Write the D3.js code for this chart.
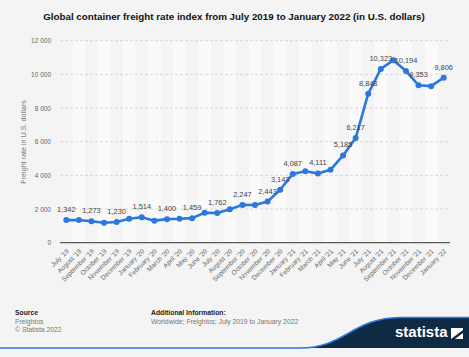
<!DOCTYPE html>
<html><head><meta charset="utf-8">
<script src="https://cdn.jsdelivr.net/npm/d3@7"></script>
<style>
html,body{margin:0;padding:0;background:#f4f4f4;}
svg{display:block;font-family:"Liberation Sans",Arial,sans-serif;}
</style></head>
<body>
<svg id="c" width="469" height="357"></svg>
<script>
const months = ["July '19","August '19","September '19","October '19","November '19","December '19",
"January '20","February '20","March '20","April '20","May '20","June '20","July '20","August '20",
"September '20","October '20","November '20","December '20","January '21","February '21","March '21",
"April '21","May '21","June '21","July '21","August '21","September '21","October '21","November '21",
"December '21","January '22"];
const rates = [1342,1350,1273,1185,1230,1420,1514,1310,1400,1420,1459,1775,1762,1990,2247,2240,2443,
3143,4087,4250,4111,4330,5185,6217,8848,10323,10839,10194,9353,9300,9806];
const labeledIdx = [0,2,4,6,8,10,12,14,16,17,18,20,22,23,24,25,27,28,30];
const yTicks = [0,2000,4000,6000,8000,10000,12000];
const yTickLabels = ["0","2 000","4 000","6 000","8 000","10 000","12 000"];

const svg = d3.select("#c");
const L = 60, R = 450, T = 40.7, B = 242.7;
const x = d3.scaleBand().domain(months).range([L, R]).padding(0);
const y = d3.scaleLinear().domain([0, 12000]).range([B, T]);
const fmt = d3.format(",");

// alternating column shading
svg.append("g").selectAll("rect").data(months.filter((d,i)=>i%2===1)).join("rect")
  .attr("x", d=>x(d)).attr("y", T).attr("width", x.bandwidth()).attr("height", B-T)
  .attr("fill", "#fafafa");

// gridlines
svg.append("g").selectAll("line").data(yTicks.filter(d=>d>0)).join("line")
  .attr("x1", L).attr("x2", R).attr("y1", d=>y(d)).attr("y2", d=>y(d))
  .attr("stroke", "#cfcfcf").attr("stroke-width", 0.8).attr("stroke-dasharray", "3,2");
// baseline
svg.append("line").attr("x1", L).attr("x2", R).attr("y1", y(0)).attr("y2", y(0))
  .attr("stroke", "#333").attr("stroke-width", 1);

// y tick labels
svg.append("g").selectAll("text").data(yTicks).join("text")
  .attr("x", 51).attr("y", d=>y(d)+2.5).attr("text-anchor","end")
  .attr("font-size", 6.5).attr("fill", "#666").text((d,i)=>yTickLabels[i]);

// y axis title
svg.append("text").attr("transform","translate(26,142) rotate(-90)")
  .attr("text-anchor","middle").attr("font-size",7.2).attr("fill","#777")
  .text("Freight rate in U.S. dollars");

// x labels
svg.append("g").selectAll("text").data(months).join("text")
  .attr("transform", d=>`translate(${x(d)+x.bandwidth()/2+3},${B+9}) rotate(-45)`)
  .attr("text-anchor","end").attr("font-size",6.6).attr("fill","#666").text(d=>d);

// line
const cx = (d,i)=>x(months[i])+x.bandwidth()/2;
svg.append("path").datum(rates)
  .attr("d", d3.line().x((d,i)=>cx(d,i)).y(d=>y(d)))
  .attr("fill","none").attr("stroke","#2a77de").attr("stroke-width",2.6).attr("stroke-linejoin","round");
svg.append("g").selectAll("circle").data(rates).join("circle")
  .attr("cx",(d,i)=>cx(d,i)).attr("cy",d=>y(d)).attr("r",3).attr("fill","#2a77de");

// data labels
svg.append("g").selectAll("text").data(labeledIdx).join("text")
  .attr("x", i=>cx(rates[i],i)).attr("y", i=>y(rates[i])-8)
  .attr("text-anchor","middle").attr("font-size",7.4).attr("fill","#444")
  .text(i=>fmt(rates[i]));

// title
const title = svg.append("text").attr("x",234).attr("y",20).attr("text-anchor","middle")
  .attr("font-weight","bold").attr("font-size",11).attr("fill","#111")
  .text("Global container freight rate index from July 2019 to January 2022 (in U.S. dollars)");
const tw = title.node().getComputedTextLength();
title.attr("font-size", 11*382/tw);

// footer
const ft = svg.append("g").attr("font-size",6.8).attr("fill","#777");
ft.append("text").attr("x",15).attr("y",315).attr("font-weight","bold").attr("fill","#222").text("Source");
ft.append("text").attr("x",15).attr("y",323.5).text("Freightos");
ft.append("text").attr("x",15).attr("y",332).text("© Statista 2022");
ft.append("text").attr("x",151).attr("y",315).attr("font-weight","bold").attr("fill","#222").text("Additional Information:");
ft.append("text").attr("x",151).attr("y",323.5).text("Worldwide; Freightos; July 2019 to January 2022");

// logo band
svg.append("path").attr("d","M300,348 C345,348 352,318 400,317.5 L469,317.5 L469,348 Z").attr("fill","#0f2a45");
svg.append("path").attr("d","M0,348 L300,348 C345,348 352,318 400,317.5 L469,317.5")
  .attr("fill","none").attr("stroke","#2a77de").attr("stroke-width",1.6);
svg.append("text").attr("x",395).attr("y",337).attr("font-size",15).attr("font-weight","bold")
  .attr("fill","#fff").attr("font-family","'Liberation Sans Narrow','Liberation Sans',Arial,sans-serif").text("statista");
svg.append("path").attr("d","M451,328 L463,328 L463,339 L451,339 Z").attr("fill","#fff");
svg.append("path").attr("d","M451,339 L463,330 L463,333 L455,339 Z").attr("fill","#0f2a45");
</script>
</body></html>
